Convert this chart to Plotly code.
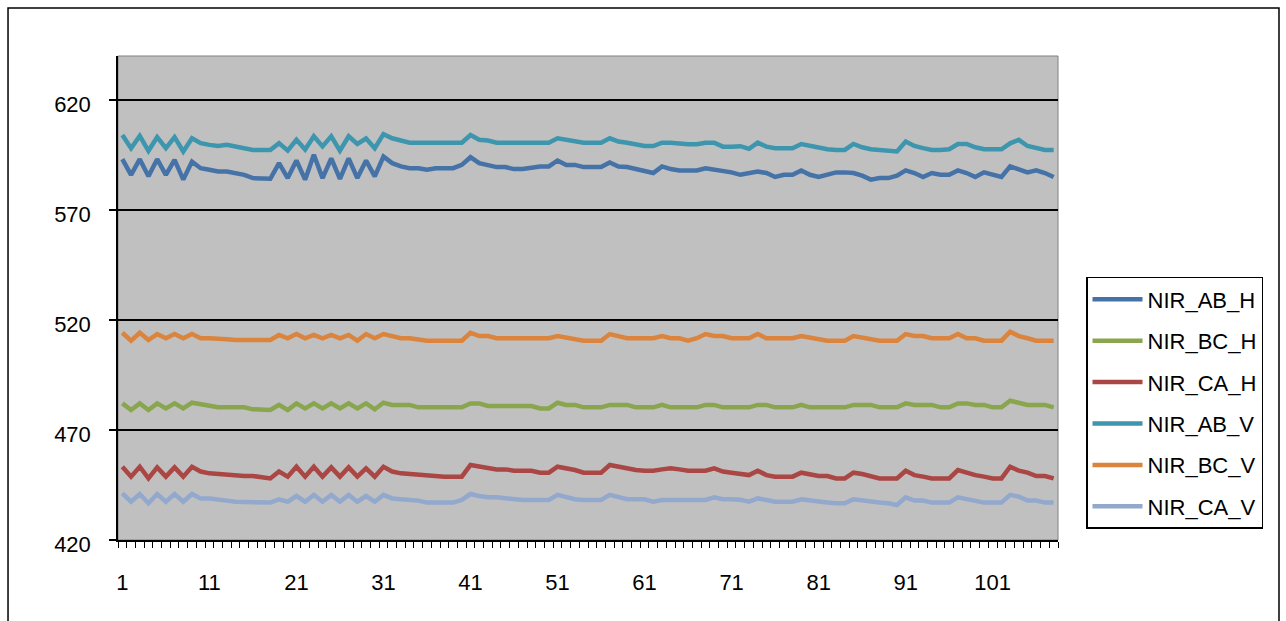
import plotly.graph_objects as go

x_vals = list(range(1, 109))
x_ticks = list(range(1, 102, 10))
y_ticks = [420, 470, 520, 570, 620]

nir_ab_h = [593.1, 586.0, 593.1, 585.3, 593.1, 586.0, 592.8, 583.8, 592.0, 589.0,
            588.3, 587.5, 587.5, 586.7, 586.0, 584.5, 584.2, 584.2, 591.3, 584.5,
            592.5, 583.8, 595.1, 584.5, 593.5, 584.2, 593.5, 584.5, 592.5, 585.3,
            594.3, 591.3, 589.8, 589.0, 589.0, 588.3, 589.0, 589.0, 589.0, 590.5,
            594.0, 591.3, 590.5, 589.5, 589.5, 588.6, 588.6, 589.3, 589.8, 589.8,
            592.5, 590.5, 590.5, 589.5, 589.5, 589.5, 591.6, 589.8, 589.5, 588.6,
            587.5, 586.8, 589.8, 588.6, 588.0, 588.0, 588.0, 589.0, 588.3, 588.0,
            587.1, 586.0, 586.8, 587.5, 586.8, 585.0, 586.0, 586.0, 588.0, 586.0,
            585.0, 586.0, 587.1, 587.1, 586.8, 585.6, 583.8, 584.5, 584.5, 585.6,
            588.0, 586.8, 585.0, 586.8, 586.0, 586.0, 588.0, 586.8, 585.0, 587.1,
            586.0, 585.0, 589.8, 588.3, 587.1, 588.0, 586.8, 585.0]

nir_bc_h = [482.1, 479.1, 482.1, 479.1, 482.1, 479.8, 482.1, 479.8, 482.4, 481.8,
            480.9, 480.3, 480.3, 480.3, 480.3, 479.4, 479.1, 479.1, 481.4, 479.1,
            482.1, 479.8, 482.1, 479.8, 482.1, 479.8, 482.1, 479.8, 482.1, 479.4,
            482.4, 481.4, 481.4, 481.4, 480.3, 480.3, 480.3, 480.3, 480.3, 480.3,
            482.1, 482.1, 480.9, 480.9, 480.9, 480.9, 480.9, 480.9, 479.8, 479.8,
            482.4, 481.4, 481.4, 480.3, 480.3, 480.3, 481.4, 481.4, 481.4, 480.3,
            480.3, 480.3, 481.4, 480.3, 480.3, 480.3, 480.3, 481.4, 481.4, 480.3,
            480.3, 480.3, 480.3, 481.4, 481.4, 480.3, 480.3, 480.3, 481.4, 480.3,
            480.3, 480.3, 480.3, 480.3, 481.4, 481.4, 481.4, 480.3, 480.3, 480.3,
            482.1, 481.4, 481.4, 481.4, 480.3, 480.3, 482.1, 482.1, 481.4, 481.4,
            480.3, 480.3, 483.3, 482.4, 481.4, 481.4, 481.4, 480.3]

nir_ca_h = [453.3, 448.8, 453.3, 448.0, 453.0, 448.8, 453.0, 448.8, 453.3, 451.1,
            450.3, 450.0, 449.5, 449.1, 449.1, 449.1, 448.5, 448.0, 451.1, 448.8,
            453.3, 448.8, 453.3, 448.8, 453.0, 448.8, 453.0, 448.8, 452.6, 448.8,
            453.3, 451.1, 450.3, 450.0, 449.5, 449.5, 448.8, 448.8, 448.8, 448.8,
            454.1, 453.3, 452.6, 452.1, 452.1, 451.5, 451.5, 451.5, 450.6, 450.6,
            453.3, 452.6, 451.8, 450.6, 450.6, 450.6, 454.1, 453.3, 452.6, 451.8,
            451.5, 451.5, 452.1, 452.6, 452.1, 451.5, 451.5, 451.5, 452.6, 451.1,
            450.6, 450.0, 449.5, 451.5, 449.5, 448.8, 448.8, 448.8, 450.6, 450.0,
            449.1, 449.1, 448.0, 448.0, 450.6, 450.0, 449.1, 448.0, 448.0, 448.0,
            451.5, 449.5, 448.8, 448.0, 448.0, 448.0, 451.8, 450.6, 449.5, 448.8,
            448.0, 448.0, 453.3, 451.5, 450.6, 449.1, 449.1, 448.0]

nir_ab_v = [604.1, 598.1, 603.7, 596.9, 603.1, 598.1, 603.1, 596.6, 602.6, 600.4,
            599.6, 599.1, 599.6, 598.9, 598.1, 597.3, 597.3, 597.3, 600.4, 597.0,
            601.9, 597.5, 603.5, 598.9, 603.5, 597.0, 603.5, 600.0, 602.5, 598.1,
            604.5, 602.6, 601.6, 600.6, 600.6, 600.6, 600.6, 600.6, 600.6, 600.6,
            604.1, 601.9, 601.6, 600.6, 600.6, 600.6, 600.6, 600.6, 600.6, 600.6,
            602.6, 601.9, 601.6, 600.6, 600.6, 600.6, 602.6, 601.1, 600.6, 600.0,
            599.1, 599.1, 600.6, 600.6, 600.0, 599.9, 599.9, 600.6, 600.6, 598.8,
            598.8, 599.0, 597.8, 600.6, 598.8, 598.1, 598.1, 598.1, 600.0, 599.1,
            598.5, 597.6, 597.3, 597.3, 600.0, 598.5, 597.6, 597.3, 596.6, 596.6,
            601.1, 599.1, 598.1, 597.3, 597.3, 597.6, 600.0, 600.0, 598.5, 597.6,
            597.6, 597.6, 600.3, 601.9, 599.1, 598.1, 597.3, 597.3]

nir_bc_v = [514.2, 510.6, 514.2, 510.9, 513.6, 511.7, 513.6, 511.7, 513.6, 511.7,
            511.7, 511.7, 511.2, 510.9, 510.9, 510.9, 510.9, 510.9, 513.2, 511.7,
            513.6, 511.7, 513.2, 511.7, 513.2, 511.7, 513.2, 510.6, 513.6, 511.7,
            513.6, 512.7, 511.7, 511.7, 510.9, 510.6, 510.6, 510.6, 510.6, 510.6,
            514.2, 512.7, 512.7, 511.7, 511.7, 511.7, 511.7, 511.7, 511.7, 511.7,
            512.7, 512.1, 511.7, 510.6, 510.6, 510.6, 513.6, 512.7, 511.7, 511.7,
            511.7, 511.7, 512.7, 511.7, 511.7, 510.6, 511.7, 513.6, 512.7, 512.7,
            511.7, 511.7, 511.7, 513.6, 511.7, 511.7, 511.7, 511.7, 512.7, 512.1,
            511.7, 510.6, 510.6, 510.6, 512.7, 512.1, 511.7, 510.6, 510.6, 510.6,
            513.6, 512.7, 512.7, 511.7, 511.7, 511.7, 513.6, 511.7, 511.7, 510.6,
            510.6, 510.6, 514.7, 512.7, 511.7, 510.6, 510.6, 510.6]

nir_ca_v = [441.2, 437.4, 440.9, 436.7, 440.9, 437.4, 440.9, 437.4, 440.9, 438.9,
            438.9, 438.2, 437.9, 437.4, 437.4, 437.0, 437.0, 437.0, 438.5, 437.4,
            440.0, 437.4, 440.5, 437.4, 440.5, 437.4, 440.5, 437.4, 440.0, 437.4,
            440.5, 438.9, 438.5, 438.2, 437.9, 437.0, 437.0, 437.0, 437.0, 438.2,
            440.9, 440.0, 439.4, 439.4, 438.9, 438.2, 438.2, 438.2, 438.2, 438.2,
            440.5, 439.4, 438.5, 438.2, 438.2, 438.2, 440.5, 439.4, 438.5, 438.5,
            438.5, 437.4, 438.2, 438.2, 438.2, 438.2, 438.2, 438.2, 439.4, 438.5,
            438.5, 438.3, 437.4, 438.9, 438.2, 437.4, 437.4, 437.4, 438.5, 437.9,
            437.4, 437.0, 436.7, 436.7, 438.5, 437.9, 437.4, 437.0, 436.7, 435.9,
            439.4, 437.9, 437.9, 437.0, 437.0, 437.0, 439.4, 438.5, 437.9, 437.0,
            437.0, 437.0, 440.5, 439.7, 437.9, 437.9, 437.0, 437.0]

series = [
    ("NIR_AB_H", nir_ab_h, "#4572A7"),
    ("NIR_BC_H", nir_bc_h, "#89A54E"),
    ("NIR_CA_H", nir_ca_h, "#AA4643"),
    ("NIR_AB_V", nir_ab_v, "#3D96AE"),
    ("NIR_BC_V", nir_bc_v, "#DB843D"),
    ("NIR_CA_V", nir_ca_v, "#92A8CD"),
]

fig = go.Figure()
for name, vals, color in series:
    fig.add_trace(go.Scatter(
        x=x_vals, y=vals, mode="lines", name=name, legendgroup=name,
        line=dict(color=color, width=4.5),
    ))

font = dict(family="Liberation Sans, Arial, sans-serif", size=22, color="black")

fig.update_layout(
    width=1286, height=621,
    margin=dict(l=118, r=228, t=56, b=81),
    paper_bgcolor="white",
    plot_bgcolor="#C0C0C0",
    font=font,
    showlegend=True,
    legend=dict(
        x=1.0298, y=0.5434, xanchor="left", yanchor="top",
        bordercolor="black", borderwidth=1.5, bgcolor="white",
        font=font, tracegroupgap=9.8, traceorder="grouped",
        itemwidth=50,
    ),
    xaxis=dict(
        range=[0.5, 108.5], tickvals=x_ticks, ticktext=[str(v) for v in x_ticks],
        ticks="", ticklen=0, showgrid=False, zeroline=False,
        showline=True, linecolor="black", linewidth=1.5,
        ticklabelstandoff=22,
        minor=dict(tick0=0.5, dtick=1, ticks="outside", ticklen=6,
                   tickcolor="black", tickwidth=1, showgrid=False),
        tickfont=font,
    ),
    yaxis=dict(
        range=[420, 640], tickvals=y_ticks,
        ticks="outside", ticklen=7, tickcolor="black", tickwidth=1.5,
        showgrid=True, gridcolor="black", gridwidth=1.5,
        zeroline=False, showline=True, linecolor="black", linewidth=1.5,
        ticklabelstandoff=14, ticklabelshift=4, tickfont=font,
    ),
    shapes=[
        dict(type="rect", xref="paper", yref="paper", x0=0, x1=1, y0=0, y1=1,
             line=dict(color="#808080", width=1), layer="below"),
        dict(type="rect", xref="paper", yref="paper",
             x0=-0.1170, x1=1.2351, y0=-0.21, y1=1.0990,
             line=dict(color="black", width=1.5)),
    ],
)

fig.write_html("out.html")
